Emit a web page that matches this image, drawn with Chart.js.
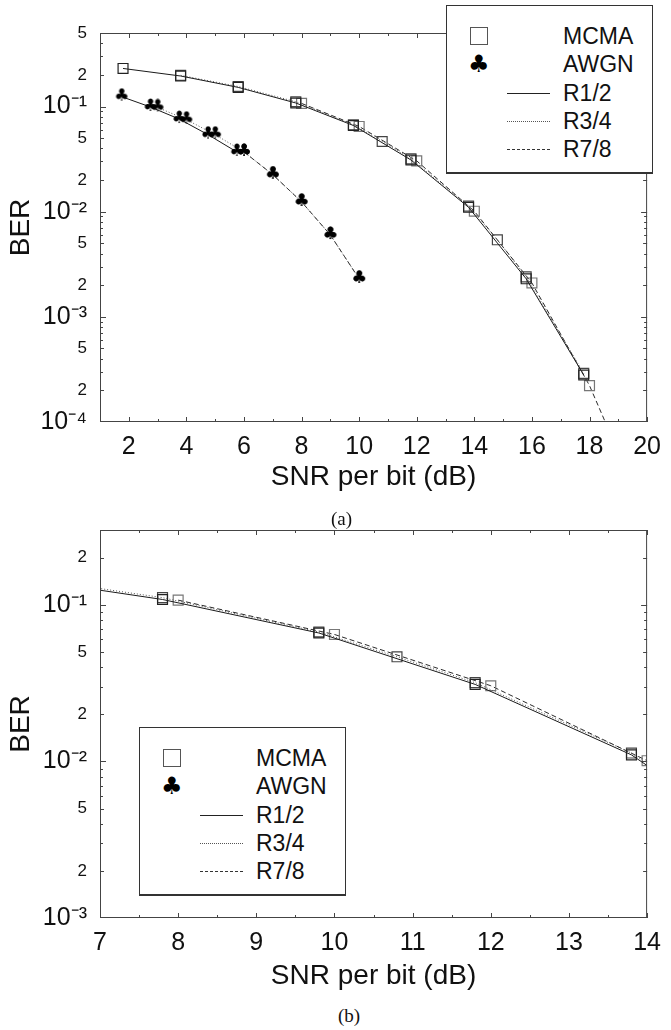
<!DOCTYPE html>
<html>
<head>
<meta charset="utf-8">
<script src="https://cdn.jsdelivr.net/npm/chart.js@4.4.1/dist/chart.umd.min.js"></script>
<style>
  body { margin: 0; background: #fff; font-family: "Liberation Sans", Arial, sans-serif; }
  #page { position: relative; width: 671px; height: 1030px; overflow: hidden; }
  canvas { position: absolute; left: 0; }
  .legend { position: absolute; width: 205px; height: 166px; border: 1px solid #333; border-bottom-width: 2px; background: #fff; }
  .row { position: absolute; left: 0; width: 100%; height: 28px; }
  .txt { position: absolute; left: 116px; top: 0; line-height: 28px; font-size: 23px; color: #111; }
  .sq { position: absolute; left: 23px; top: 5px; width: 16px; height: 16px; border: 1px solid #555; }
  .club { position: absolute; left: 21px; top: 0; font-size: 24px; line-height: 28px; font-family: "DejaVu Sans", sans-serif; color: #000; }
  .ln { position: absolute; left: 60px; top: 14px; width: 43px; height: 0; border-top: 1px solid #222; }
  .ln.dot { border-top: 1px dotted #555; }
  .ln.dash { border-top: 1px dashed #333; }
  .caption { position: absolute; font-family: "Liberation Serif", "Times New Roman", serif; font-size: 19px; line-height: 20px; color: #111; }
</style>
</head>
<body>
<div id="page">
  <canvas id="chartA" width="671" height="500" style="top:0"></canvas>
  <canvas id="chartB" width="671" height="500" style="top:500px"></canvas>

  <div class="legend" style="left:446px; top:5px">
    <div class="row" style="top:16px"><div class="sq"></div><span class="txt">MCMA</span></div>
    <div class="row" style="top:44px"><div class="club">♣</div><span class="txt">AWGN</span></div>
    <div class="row" style="top:73px"><div class="ln"></div><span class="txt">R1/2</span></div>
    <div class="row" style="top:101px"><div class="ln dot"></div><span class="txt">R3/4</span></div>
    <div class="row" style="top:129px"><div class="ln dash"></div><span class="txt">R7/8</span></div>
  </div>
  <div class="caption" style="left:331px; top:509px">(a)</div>

  <div class="legend" style="left:139px; top:727px">
    <div class="row" style="top:16px"><div class="sq"></div><span class="txt">MCMA</span></div>
    <div class="row" style="top:44px"><div class="club">♣</div><span class="txt">AWGN</span></div>
    <div class="row" style="top:73px"><div class="ln"></div><span class="txt">R1/2</span></div>
    <div class="row" style="top:101px"><div class="ln dot"></div><span class="txt">R3/4</span></div>
    <div class="row" style="top:129px"><div class="ln dash"></div><span class="txt">R7/8</span></div>
  </div>
  <div class="caption" style="left:338px; top:1006px">(b)</div>
</div>

<script>
// MCMA curves, one per code rate
const mcmaSnrR12 = [1.8, 3.8, 5.8, 7.8, 9.8, 11.8, 13.8, 15.8, 17.8];
const mcmaBerR12 = [0.23, 0.195, 0.152, 0.108, 0.066, 0.031, 0.011, 0.0023, 0.00028];
const mcmaSnrR34 = [3.8, 5.8, 7.8, 9.8, 10.8, 11.8, 13.8, 14.8, 15.8, 17.8];
const mcmaBerR34 = [0.198, 0.155, 0.111, 0.067, 0.0465, 0.0318, 0.0113, 0.0054, 0.0024, 0.00029];
const mcmaSnrR78 = [8.0, 10.0, 12.0, 14.0, 16.0, 18.0, 20.0];
const mcmaBerR78 = [0.107, 0.0646, 0.0304, 0.0101, 0.0021, 0.000222, 0.000012];

// AWGN reference curves
const awgnSnrR12 = [1.75, 2.75, 3.75, 4.75, 5.75];
const awgnBerR12 = [0.124, 0.099, 0.076, 0.054, 0.037];
const awgnSnrR34 = [3.0, 4.0, 5.0, 6.0, 7.0, 8.0, 9.0, 10.0];
const awgnBerR34 = [0.098, 0.075, 0.054, 0.037, 0.0225, 0.0124, 0.006, 0.0023];
const awgnSnrR78 = [6.0, 7.0, 8.0, 9.0, 10.0];
const awgnBerR78 = [0.037, 0.0225, 0.0124, 0.006, 0.0023];

// axis ticks
const xTicksA = [2, 4, 6, 8, 10, 12, 14, 16, 18, 20];
const xMinorA = [3, 5, 7, 9, 11, 13, 15, 17, 19];
const yTicksA = [1e-4, 2e-4, 5e-4, 1e-3, 2e-3, 5e-3, 1e-2, 2e-2, 5e-2, 1e-1, 2e-1, 5e-1];
const xTicksB = [7, 8, 9, 10, 11, 12, 13, 14];
const xMinorB = [7.5, 8.5, 9.5, 10.5, 11.5, 12.5, 13.5];
const yTicksB = [1e-3, 2e-3, 5e-3, 1e-2, 2e-2, 5e-2, 1e-1, 2e-1];

const FONT = '"Liberation Sans", Arial, sans-serif';
const SUP = { '-': '\u207B', '0': '\u2070', '1': '\u00B9', '2': '\u00B2', '3': '\u00B3', '4': '\u2074' };

function isDecade(v) {
  const e = Math.round(Math.log10(v));
  return Math.abs(v / Math.pow(10, e) - 1) < 1e-6;
}

function berLabel(v) {
  if (isDecade(v)) {
    const e = String(Math.round(Math.log10(v)));
    return '10' + e.split('').map(c => SUP[c]).join('');
  }
  const m = Math.round(v / Math.pow(10, Math.floor(Math.log10(v) + 1e-9)));
  return String(m);
}

// club marker as a small canvas image
const clubImg = document.createElement('canvas');
clubImg.width = 16;
clubImg.height = 18;
(function() {
  const c = clubImg.getContext('2d');
  c.fillStyle = '#000';
  c.font = '17px "DejaVu Sans"';
  c.textAlign = 'center';
  c.textBaseline = 'middle';
  c.fillText('\u2663', 8, 9);
})();

function series(label, snr, ber, style) {
  return Object.assign({
    label: label,
    data: snr.map((s, i) => ({ x: s, y: ber[i] })),
    fill: false,
    tension: 0,
    borderWidth: 1
  }, style);
}

const solid = { borderColor: '#1a1a1a', borderDash: [] };
const dotted = { borderColor: '#555', borderDash: [1, 2] };
const dashed = { borderColor: '#2a2a2a', borderDash: [5, 3] };

function square(color) {
  return { pointStyle: 'rect', pointRadius: 7, pointBorderWidth: 1.2,
           pointBorderColor: color, pointBackgroundColor: 'rgba(0,0,0,0)' };
}
const club = { pointStyle: clubImg, pointRadius: 8 };

// frame with inward tick marks, drawn through the chart scales
const framePlugin = {
  id: 'frame',
  afterDatasetsDraw(chart, args, opts) {
    const { ctx, chartArea: a, scales: { x, y } } = chart;
    ctx.save();
    ctx.strokeStyle = '#444';
    ctx.lineWidth = 1;
    ctx.strokeRect(a.left + 0.5, a.top + 0.5, a.width - 1, a.height - 1);
    ctx.beginPath();
    const xMark = (v, len) => {
      const px = Math.round(x.getPixelForValue(v)) + 0.5;
      ctx.moveTo(px, a.bottom); ctx.lineTo(px, a.bottom - len);
      ctx.moveTo(px, a.top); ctx.lineTo(px, a.top + len);
    };
    opts.major.forEach(v => xMark(v, 5));
    opts.minor.forEach(v => xMark(v, 3));
    for (let k = Math.floor(Math.log10(y.min)); k <= Math.ceil(Math.log10(y.max)); k++) {
      for (let m = 1; m <= 9; m++) {
        const v = m * Math.pow(10, k);
        if (v <= y.min * 1.0001 || v >= y.max * 0.9999) continue;
        const len = (m === 1) ? 6 : (m === 2 || m === 5) ? 4 : 3;
        const py = Math.round(y.getPixelForValue(v)) + 0.5;
        ctx.moveTo(a.left, py); ctx.lineTo(a.left + len, py);
        ctx.moveTo(a.right, py); ctx.lineTo(a.right - len, py);
      }
    }
    ctx.stroke();
    ctx.restore();
  }
};

function makeChart(id, datasets, cfg) {
  return new Chart(document.getElementById(id).getContext('2d'), {
    type: 'line',
    data: { datasets: datasets },
    plugins: [framePlugin],
    options: {
      responsive: false,
      animation: false,
      layout: { padding: { left: 0, right: cfg.padRight, top: cfg.padTop, bottom: 0 } },
      plugins: {
        legend: { display: false },
        tooltip: { enabled: false },
        frame: { major: cfg.xTicks, minor: cfg.xMinor }
      },
      scales: {
        x: {
          type: 'linear',
          min: cfg.xMin,
          max: cfg.xMax,
          grid: { display: false, drawTicks: false },
          border: { display: false },
          afterBuildTicks: s => { s.ticks = cfg.xTicks.map(v => ({ value: v })); },
          afterFit: s => { s.height = cfg.xHeight; },
          ticks: {
            autoSkip: false,
            maxRotation: 0,
            padding: 10,
            color: '#111',
            font: { family: FONT, size: 25 },
            callback: v => String(v)
          },
          title: {
            display: true,
            text: 'SNR per bit (dB)',
            color: '#111',
            font: { family: FONT, size: 28 },
            padding: { top: 0, bottom: cfg.titlePad }
          }
        },
        y: {
          type: 'logarithmic',
          min: cfg.yMin,
          max: cfg.yMax,
          grid: { display: false, drawTicks: false },
          border: { display: false },
          afterBuildTicks: s => { s.ticks = cfg.yTicks.map(v => ({ value: v })); },
          afterFit: s => { s.width = 100; },
          ticks: {
            autoSkip: false,
            padding: 13,
            color: '#111',
            font: ctx => ({ family: FONT, size: (ctx.tick && isDecade(ctx.tick.value)) ? 25 : 17 }),
            callback: v => berLabel(v)
          },
          title: {
            display: true,
            text: 'BER',
            color: '#111',
            font: { family: FONT, size: 28 },
            padding: { top: 4, bottom: 0 }
          }
        }
      }
    }
  });
}

const mcmaSets = () => [
  series('MCMA R1/2', mcmaSnrR12, mcmaBerR12, Object.assign({}, solid, square('#222'))),
  series('MCMA R3/4', mcmaSnrR34, mcmaBerR34, Object.assign({}, dotted, square('#444'))),
  series('MCMA R7/8', mcmaSnrR78, mcmaBerR78, Object.assign({}, dashed, square('#777')))
];

makeChart('chartA', mcmaSets().concat([
  series('AWGN R1/2', awgnSnrR12, awgnBerR12, Object.assign({}, solid, club)),
  series('AWGN R3/4', awgnSnrR34, awgnBerR34, Object.assign({}, dotted, club)),
  series('AWGN R7/8', awgnSnrR78, awgnBerR78, Object.assign({}, dashed, club))
]), {
  xMin: 1, xMax: 20, yMin: 1e-4, yMax: 0.5,
  xTicks: xTicksA, xMinor: xMinorA, yTicks: yTicksA,
  padTop: 33, padRight: 16, xHeight: 78, titlePad: 6
});

makeChart('chartB', mcmaSets(), {
  xMin: 7, xMax: 14, yMin: 1e-3, yMax: 0.3,
  xTicks: xTicksB, xMinor: xMinorB, yTicks: yTicksB,
  padTop: 30, padRight: 15, xHeight: 82, titlePad: 7
});
</script>
</body>
</html>
